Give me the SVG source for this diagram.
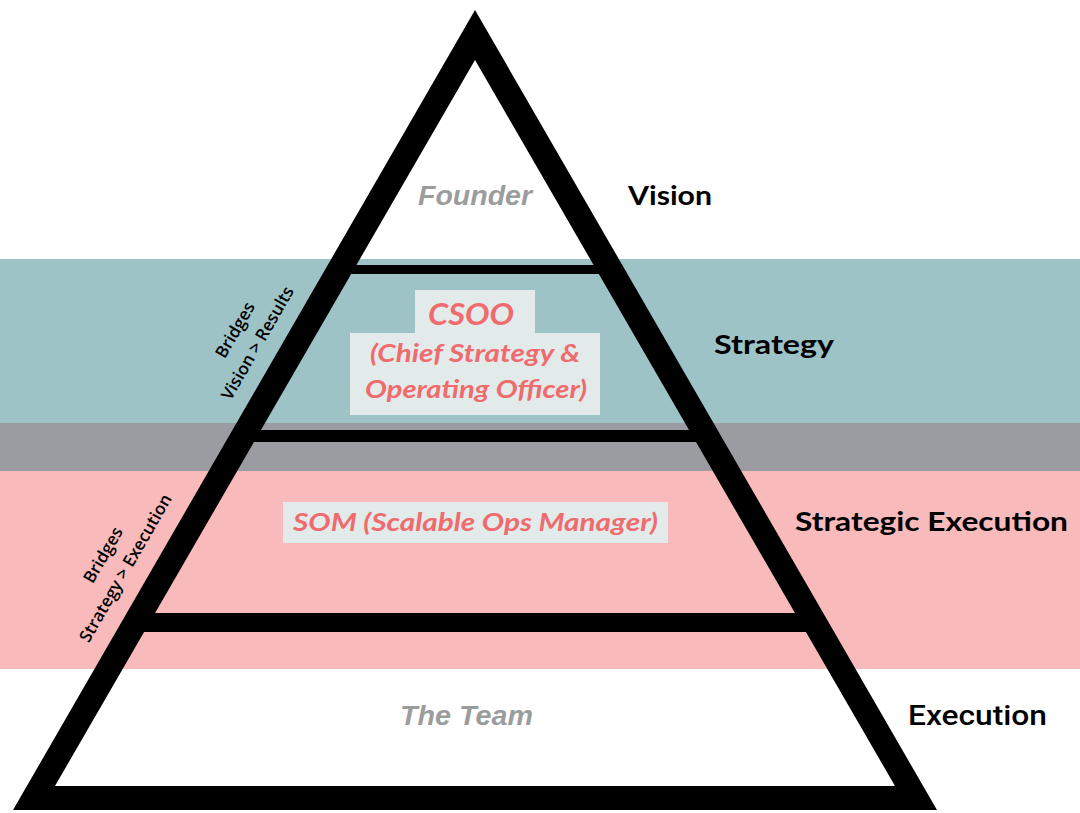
<svg xmlns="http://www.w3.org/2000/svg" width="1080" height="813" viewBox="0 0 1080 813">
<style>
.lvl{font-family:Lato,"Open Sans","Liberation Sans",sans-serif;font-weight:700;fill:#000;font-size:27px}
.role{font-family:Lato,"Open Sans","Liberation Sans",sans-serif;font-weight:700;font-style:italic;fill:#EF6B6E}
.gray{font-family:"Liberation Sans",Arial,sans-serif;font-weight:700;font-style:italic;fill:#9B9D9D;font-size:28.5px}
.bridge{font-family:"Open Sans",Lato,sans-serif;font-weight:600;fill:#000;font-size:17px;text-anchor:middle}
.box{fill:#E3EAEA}
.bar{fill:#000}
</style>
<rect width="1080" height="813" fill="#fff"/>
<g id="bands">
<rect x="0" y="259" width="1080" height="164" fill="#9DC3C6"/>
<rect x="0" y="423" width="1080" height="48" fill="#9A9CA1"/>
<rect x="0" y="471" width="1080" height="198" fill="#F8BABB"/>
</g>
<g id="pyramid">
<path fill="#000" fill-rule="evenodd" d="M475,10 L937,810 L13,810 Z M475,60 L895,786 L55,786 Z"/>
<polygon class="bar" points="353,265 597,265 602,274 348,274"/>
<polygon class="bar" points="258,430 692,430 699,442 251,442"/>
<polygon class="bar" points="152,613 798,613 809,632 141,632"/>
</g>
<g id="founder">
<text class="gray" x="418" y="205" textLength="114" lengthAdjust="spacingAndGlyphs">Founder</text>
</g>
<g id="csoo">
<rect class="box" x="415" y="290" width="120" height="44"/>
<rect class="box" x="350" y="333" width="250" height="82"/>
<text class="role" x="428" y="325" font-size="30" textLength="86" lengthAdjust="spacingAndGlyphs">CSOO</text>
<text class="role" x="370" y="362" font-size="24" textLength="210" lengthAdjust="spacingAndGlyphs">(Chief Strategy &amp;</text>
<text class="role" x="365" y="398" font-size="24" textLength="222" lengthAdjust="spacingAndGlyphs">Operating Officer)</text>
</g>
<g id="som">
<rect class="box" x="283" y="502" width="385" height="41"/>
<text class="role" x="293" y="531" font-size="24" textLength="365" lengthAdjust="spacingAndGlyphs">SOM (Scalable Ops Manager)</text>
</g>
<g id="team">
<text class="gray" x="400" y="725" textLength="133" lengthAdjust="spacingAndGlyphs">The Team</text>
</g>
<g id="levels">
<text class="lvl" x="628" y="205" textLength="84" lengthAdjust="spacingAndGlyphs">Vision</text>
<text class="lvl" x="714" y="354" textLength="120" lengthAdjust="spacingAndGlyphs">Strategy</text>
<text class="lvl" x="795" y="531" textLength="273" lengthAdjust="spacingAndGlyphs">Strategic Execution</text>
<text x="908" y="725" font-family="Roboto,'Liberation Sans',sans-serif" font-weight="500" font-size="28" fill="#000" textLength="139" lengthAdjust="spacingAndGlyphs">Execution</text>
</g>
<g id="bridge-vision" transform="translate(247,337) rotate(-60)">
<text class="bridge" x="0" y="-8">Bridges</text>
<text class="bridge" x="0" y="18">Vision &gt; Results</text>
</g>
<g id="bridge-strategy" transform="translate(115,562) rotate(-60)">
<text class="bridge" x="0" y="-8">Bridges</text>
<text class="bridge" x="0" y="18">Strategy &gt; Execution</text>
</g>
</svg>
